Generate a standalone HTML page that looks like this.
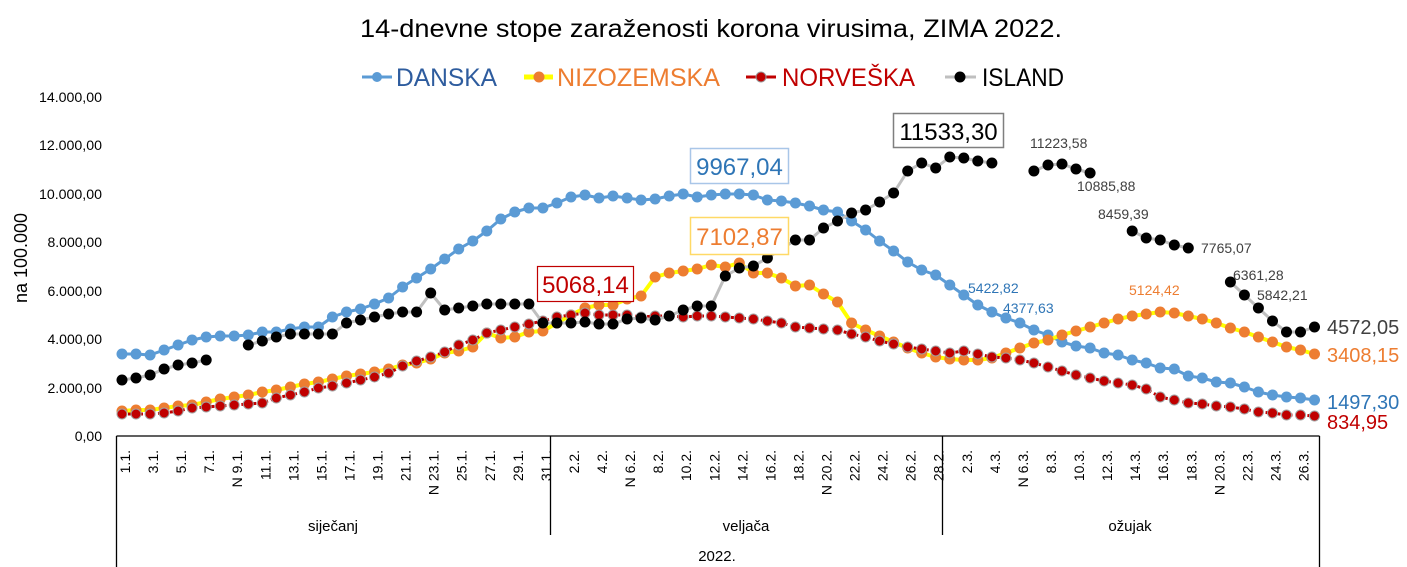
<!DOCTYPE html>
<html><head><meta charset="utf-8"><style>
html,body{margin:0;padding:0;background:#fff;}
svg{display:block;font-family:"Liberation Sans",sans-serif;}
</style></head><body>
<svg id="s" width="1407" height="567" viewBox="0 0 1407 567" xmlns="http://www.w3.org/2000/svg">
<text x="711" y="37" font-size="25" text-anchor="middle" textLength="702" lengthAdjust="spacingAndGlyphs" fill="#000">14-dnevne stope zaraženosti korona virusima, ZIMA 2022.</text>
<!-- legend -->
<line x1="362" y1="77" x2="392" y2="77" stroke="#5b9bd5" stroke-width="3"/><circle cx="377" cy="77" r="5" fill="#5b9bd5"/>
<text x="396" y="86" font-size="25" fill="#2e5c9e" textLength="101" lengthAdjust="spacingAndGlyphs">DANSKA</text>
<line x1="524" y1="77" x2="553" y2="77" stroke="#ffff00" stroke-width="5"/><circle cx="539" cy="77" r="5.5" fill="#ed7d31"/>
<text x="557" y="86" font-size="25" fill="#ed7d31" textLength="163" lengthAdjust="spacingAndGlyphs">NIZOZEMSKA</text>
<line x1="746" y1="77" x2="776" y2="77" stroke="#c00000" stroke-width="3"/><circle cx="761" cy="77" r="5" fill="#c00000" stroke="#999" stroke-width="1"/>
<text x="782" y="86" font-size="25" fill="#c00000" textLength="133" lengthAdjust="spacingAndGlyphs">NORVEŠKA</text>
<line x1="945" y1="77" x2="976" y2="77" stroke="#bfbfbf" stroke-width="3"/><circle cx="960" cy="77" r="5.5" fill="#000"/>
<text x="982" y="86" font-size="25" fill="#000" textLength="82" lengthAdjust="spacingAndGlyphs">ISLAND</text>
<!-- y axis labels -->
<g font-size="14" text-anchor="end" fill="#000">
<text x="102" y="102" textLength="63" lengthAdjust="spacingAndGlyphs">14.000,00</text><text x="102" y="150" textLength="63" lengthAdjust="spacingAndGlyphs">12.000,00</text><text x="102" y="199" textLength="63" lengthAdjust="spacingAndGlyphs">10.000,00</text>
<text x="102" y="247">8.000,00</text><text x="102" y="296">6.000,00</text><text x="102" y="344">4.000,00</text>
<text x="102" y="393">2.000,00</text><text x="102" y="441">0,00</text>
</g>
<text transform="translate(27,258) rotate(-90)" font-size="18" text-anchor="middle">na 100.000</text>
<!-- axis -->
<g stroke="#000" stroke-width="1.3" fill="none">
<line x1="116.5" y1="436" x2="1319.5" y2="436"/>
<line x1="116.5" y1="436" x2="116.5" y2="567"/>
<line x1="1319.5" y1="436" x2="1319.5" y2="567"/>
<line x1="550.5" y1="436" x2="550.5" y2="535"/>
<line x1="942.5" y1="436" x2="942.5" y2="535"/>
</g>
<g font-size="15" text-anchor="middle"><text x="333" y="531">siječanj</text><text x="746" y="531">veljača</text><text x="1130" y="531">ožujak</text><text x="717" y="561">2022.</text></g>
<g id="ticks" font-size="14"></g>
<g id="series"></g>
<!-- data labels -->
<rect x="690.5" y="148.5" width="98" height="35" fill="#fff" stroke="#a9c6e8" stroke-width="1.5"/>
<text x="739.5" y="175" font-size="24" text-anchor="middle" fill="#2e75b6">9967,04</text>
<rect x="690.5" y="217.5" width="98" height="37" fill="#fff" stroke="#ffd966" stroke-width="1.5"/>
<text x="739.5" y="245" font-size="24" text-anchor="middle" fill="#ed7d31">7102,87</text>
<rect x="537.5" y="266.5" width="96" height="35" fill="#fff" stroke="#c00000" stroke-width="1.2"/>
<text x="585.5" y="293" font-size="24" text-anchor="middle" fill="#c00000">5068,14</text>
<rect x="893.5" y="113.5" width="110" height="34" fill="#fff" stroke="#7f7f7f" stroke-width="1.5"/>
<text x="948.5" y="140" font-size="24" text-anchor="middle" fill="#000">11533,30</text>
<g font-size="14" fill="#404040">
<text x="1030" y="148">11223,58</text><text x="1077" y="191">10885,88</text><text x="1098" y="219">8459,39</text>
<text x="1201" y="253">7765,07</text><text x="1233" y="280">6361,28</text><text x="1257" y="300">5842,21</text>
</g>
<g font-size="14"><text x="968" y="293" fill="#2e75b6">5422,82</text><text x="1003" y="313" fill="#2e75b6">4377,63</text><text x="1129" y="295" fill="#ed7d31">5124,42</text></g>
<g font-size="20"><text x="1327" y="334" fill="#404040">4572,05</text><text x="1327" y="362" fill="#ed7d31">3408,15</text>
<text x="1327" y="409" fill="#2e75b6">1497,30</text><text x="1327" y="429" fill="#c00000">834,95</text></g>
</svg>
<script>
var NS="http://www.w3.org/2000/svg";
function X(i){return 122+14.03*i;}
var dan=[354,354,355,350,345,340,337,336,336,335,332,332,329,327,327,317,312,309,304,298,287,278,269,259,249,241,231,219,212,208,208,203,
197,195,198,196,198,200,199,196,194,197,195,194,194,195,200,201,203,206,210,212,221,230,241,251,262,270,275,285,295,
305,312,318,323,330,335,342,346,348,353,355,360,363,368,369,376,378,382,383,387,392,395,397,398,400];
var niz=[411,410,410,408,406,405,402,399,397,395,392,390,387,384,382,379,376,374,372,369,365,363,359,353,351,347,333,338,337,332,331,323,
315,308,305,305,299,296,277,273,271,269,265,267,263,273,273,278,286,285,294,302,323,330,336,342,348,353,357,359,
360,360,358,353,348,343,340,335,331,327,323,319,316,314,312,313,316,319,323,328,332,337,342,347,350,354];
var nor=[414,414,414,413,411,408,407,406,405,404,403,398,395,392,388,386,383,380,377,373,366,361,357,352,345,340,333,330,327,324,321,317,
315,313,315,315,315,317,316,316,317,316,316,317,318,319,321,323,327,328,329,330,334,337,341,344,347,349,351,353,
351,354,357,358,360,363,367,371,375,378,381,383,385,389,397,400,403,404,406,407,409,412,413,415,415,416];
var N=null;
var isl=[380,378,375,369,365,363,360,N,N,345,341,337,334,334,334,334,323,320,317,314,312,312,293,310,308,306,304,304,304,304,323,323,
323,322,324,324,319,318,320,316,310,306,306,276,268,266,258,249,240,240,228,221,213,210,202,193,171,163,168,157,158,
161,163,N,N,171,165,164,169,173,N,N,231,238,240,245,248,N,N,282,295,308,321,332,332,327];
var g=document.getElementById("series");
function el(t,a){var e=document.createElementNS(NS,t);for(var k in a)e.setAttribute(k,a[k]);g.appendChild(e);return e;}
function pathOf(d){var s="",pen=false;for(var i=0;i<d.length;i++){if(d[i]==null){pen=false;continue;}s+=(pen?"L":"M")+X(i).toFixed(1)+" "+d[i]+" ";pen=true;}return s;}
function series(d,lc,lw,dash,mc,r,ms){
 var a={d:pathOf(d),fill:"none",stroke:lc,"stroke-width":lw,"stroke-linejoin":"round"};if(dash)a["stroke-dasharray"]=dash;el("path",a);
 for(var i=0;i<d.length;i++){if(d[i]==null)continue;var c={cx:X(i).toFixed(1),cy:d[i],r:r,fill:mc};if(ms){c.stroke=ms;c["stroke-width"]=1;}el("circle",c);}
}
series(dan,"#5b9bd5",3,null,"#5b9bd5",5.5);
series(niz,"#ffff00",4,null,"#ed7d31",5.5);
series(nor,"#c00000",3,"3 3","#c00000",5,"#a0a0a0");
series(isl,"#bfbfbf",3,null,"#000",5.5);
var tg=document.getElementById("ticks");
var sund={"9.1.":1,"23.1.":1,"6.2.":1,"20.2.":1,"6.3.":1,"20.3.":1};
for(var i=0;i<86;i+=2){var s;if(i<31)s=(i+1)+".1.";else if(i<59)s=(i-30)+".2.";else s=(i-58)+".3.";
 if(sund[s])s="N "+s;
 var t=document.createElementNS(NS,"text");var x=X(i)+8;
 t.setAttribute("transform","translate("+x.toFixed(1)+",450) rotate(-90)");t.setAttribute("text-anchor","end");t.textContent=s;tg.appendChild(t);}
</script>
</body></html>
